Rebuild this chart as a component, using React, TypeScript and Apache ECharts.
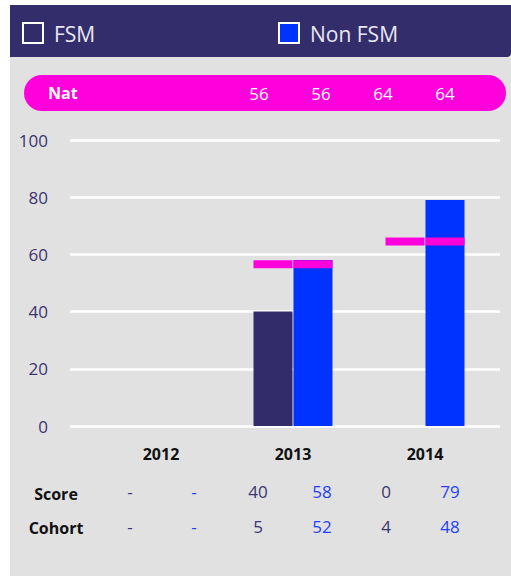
import React, { useEffect, useRef } from "react";
import * as echarts from "echarts";

const years = ["2012", "2013", "2014"];
const scoreFSM: (number | null)[] = [null, 40, 0];
const scoreNonFSM: (number | null)[] = [null, 58, 79];
const cohortFSM: (number | null)[] = [null, 5, 4];
const cohortNonFSM: (number | null)[] = [null, 52, 48];
const natFSM: (number | null)[] = [null, 56, 64];
const natNonFSM: (number | null)[] = [null, 56, 64];
const yTicks = { min: 0, max: 100, interval: 20 };

const FONT = "'Open Sans', 'Noto Sans', sans-serif";
const C_FSM = "#322c6a";
const C_NON = "#0033ff";
const C_NAT = "#ff00dd";
const C_TEXT_FSM = "#3a3570";
const C_TEXT_NON = "#1f3fff";

export default function App() {
  const ref = useRef<HTMLDivElement>(null);
  useEffect(() => {
    if (!ref.current) return;
    const chart = echarts.init(ref.current, null, { renderer: "svg" });

    const gLeft = 95;
    const gWidth = 396;

    const graphic: any[] = [
      { type: "rect", shape: { x: 10, y: 57, width: 501, height: 519 }, style: { fill: "#e1e1e1" }, z: -10 },
      { type: "rect", shape: { x: 10, y: 5, width: 501, height: 52, r: [0, 0, 4, 0] }, style: { fill: "#332d6b" }, z: -9 },
      { type: "rect", shape: { x: 23, y: 23, width: 20, height: 20 }, style: { fill: C_FSM, stroke: "#ffffff", lineWidth: 2 } },
      { type: "text", x: 54, y: 34, style: { text: "FSM", fill: "#e8e8f2", font: `21px ${FONT}`, verticalAlign: "middle" } },
      { type: "rect", shape: { x: 279, y: 23, width: 20, height: 20 }, style: { fill: C_NON, stroke: "#ffffff", lineWidth: 2 } },
      { type: "text", x: 310, y: 34, style: { text: "Non FSM", fill: "#e8e8f2", font: `21px ${FONT}`, verticalAlign: "middle" } },
      { type: "rect", shape: { x: 24, y: 75, width: 482, height: 36, r: 18 }, style: { fill: C_NAT } },
      { type: "text", x: 48, y: 93, style: { text: "Nat", fill: "#ffffff", font: `bold 16px ${FONT}`, verticalAlign: "middle" } },
      { type: "text", x: 56, y: 494, style: { text: "Score", fill: "#111111", font: `bold 16px ${FONT}`, align: "center", verticalAlign: "middle" } },
      { type: "text", x: 56, y: 528, style: { text: "Cohort", fill: "#111111", font: `bold 16px ${FONT}`, align: "center", verticalAlign: "middle" } },
    ];

    const natVals: number[] = [];
    years.forEach((_, i) => {
      if (natFSM[i] != null) natVals.push(natFSM[i] as number);
      if (natNonFSM[i] != null) natVals.push(natNonFSM[i] as number);
    });
    natVals.forEach((v, k) => {
      graphic.push({ type: "text", x: 259 + 62 * k, y: 93, style: { text: String(v), fill: "#ffffff", font: `17px ${FONT}`, align: "center", verticalAlign: "middle" } });
    });

    const fmt = (v: number | null) => (v == null ? "-" : String(v));
    years.forEach((_, i) => {
      const xF = 130 + 128 * i;
      const xN = xF + 64;
      const rows: [number, (number | null)[], (number | null)[]][] = [
        [491, scoreFSM, scoreNonFSM],
        [526, cohortFSM, cohortNonFSM],
      ];
      rows.forEach(([y, a, b]) => {
        graphic.push({ type: "text", x: xF, y, style: { text: fmt(a[i]), fill: C_TEXT_FSM, font: `17px ${FONT}`, align: "center", verticalAlign: "middle" } });
        graphic.push({ type: "text", x: xN, y, style: { text: fmt(b[i]), fill: C_TEXT_NON, font: `17px ${FONT}`, align: "center", verticalAlign: "middle" } });
      });
    });

    const toData = (arr: (number | null)[]) => arr.map((v) => (v == null ? "-" : v));

    chart.setOption({
      animation: false,
      backgroundColor: "#ffffff",
      grid: [
        { left: 70, top: 140, width: 430, height: 286 },
        { left: gLeft, top: 140, width: gWidth, height: 286 },
      ],
      xAxis: [
        { gridIndex: 0, type: "category", data: years, show: false },
        {
          gridIndex: 1,
          type: "category",
          data: years,
          axisLine: { show: false },
          axisTick: { show: false },
          axisLabel: { color: "#111111", fontWeight: "bold", fontSize: 16, fontFamily: FONT, margin: 20 },
        },
      ],
      yAxis: [
        {
          gridIndex: 0,
          type: "value",
          ...yTicks,
          axisLine: { show: false },
          axisTick: { show: false },
          axisLabel: { color: C_TEXT_FSM, fontSize: 17, fontFamily: FONT, margin: 22 },
          splitLine: { lineStyle: { color: "#ffffff", width: 2.5 } },
        },
        { gridIndex: 1, type: "value", ...yTicks, show: false, splitLine: { show: false } },
      ],
      series: [
        {
          type: "bar",
          name: "FSM",
          xAxisIndex: 1,
          yAxisIndex: 1,
          data: toData(scoreFSM),
          barWidth: 39,
          barGap: "2.5%",
          itemStyle: { color: C_FSM },
        },
        {
          type: "bar",
          name: "Non FSM",
          xAxisIndex: 1,
          yAxisIndex: 1,
          data: toData(scoreNonFSM),
          barWidth: 39,
          barGap: "2.5%",
          itemStyle: { color: C_NON },
        },
        {
          type: "scatter",
          xAxisIndex: 1,
          yAxisIndex: 1,
          data: toData(natFSM),
          symbol: "rect",
          symbolSize: [39, 8],
          symbolOffset: [-20, -1.5],
          itemStyle: { color: C_NAT, opacity: 1 },
          z: 5,
        },
        {
          type: "scatter",
          xAxisIndex: 1,
          yAxisIndex: 1,
          data: toData(natNonFSM),
          symbol: "rect",
          symbolSize: [39, 8],
          symbolOffset: [20, -1.5],
          itemStyle: { color: C_NAT, opacity: 1 },
          z: 5,
        },
      ],
      graphic,
    });
    return () => chart.dispose();
  }, []);
  return <div ref={ref} style={{ position: "fixed", left: 0, top: 0, width: 511, height: 576 }} />;
}
